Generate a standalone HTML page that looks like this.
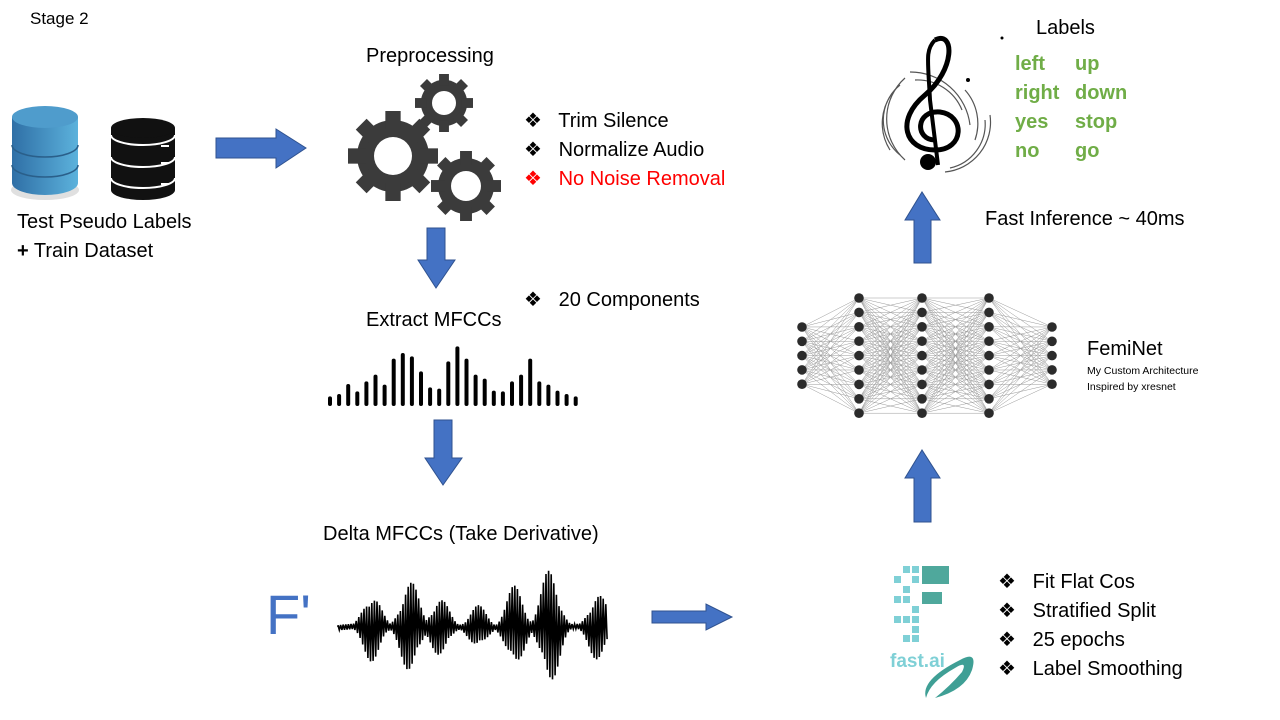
<!DOCTYPE html>
<html><head><meta charset="utf-8"><style>
body{margin:0;width:1280px;height:720px;background:#fff;position:relative;overflow:hidden;font-family:"Liberation Sans",sans-serif;}
.t{position:absolute;white-space:nowrap;font-size:20px;color:#000;}
.g{color:#70ad47;font-weight:bold;font-size:20px;}
svg{position:absolute;left:0;top:0;}
</style></head><body>
<svg id="s" width="1280" height="720" viewBox="0 0 1280 720">
<defs>
<linearGradient id="bl" x1="0" x2="1"><stop offset="0" stop-color="#2f6fa6"/><stop offset="1" stop-color="#5cb2dc"/></linearGradient>
</defs>
<ellipse cx="45" cy="190" rx="34" ry="10" fill="#ccc" opacity=".6"/>
<path d="M12 117 V183 A33 12 0 0 0 78 183 V117 Z" fill="url(#bl)"/>
<ellipse cx="45" cy="117" rx="33" ry="11" fill="#4f9ccc"/>
<path d="M12 145 A33 12 0 0 0 78 145 M12 165 A33 12 0 0 0 78 165" stroke="#2a5f8a" stroke-width="1.5" fill="none"/>
<path d="M111 128 V190 A32 10 0 0 0 175 190 V128 Z" fill="#111"/>
<ellipse cx="143" cy="128" rx="32" ry="10" fill="#111"/>
<path d="M111 135 A32 10 0 0 0 175 135 M111 157 A32 10 0 0 0 175 157 M111 178 A32 10 0 0 0 175 178" stroke="#fff" stroke-width="2" fill="none"/>
<g stroke="#fff" stroke-width="2"><path d="M161 146h8M161 163h8M161 184h8"/></g>
<polygon points="216,138 276,138 276,129 306,148 276,168 276,158 216,158" fill="#4472c4" stroke="#2f528f"/>
<polygon points="427,228 445,228 445,260 455,260 436,288 418,260 427,260" fill="#4472c4" stroke="#2f528f"/>
<polygon points="434,420 452,420 452,458 462,458 443,485 425,458 434,458" fill="#4472c4" stroke="#2f528f"/>
<polygon points="652,611 706,611 706,604 732,617 706,630 706,623 652,623" fill="#4472c4" stroke="#2f528f"/>
<polygon points="914,522 931,522 931,478 940,478 922,450 905,478 914,478" fill="#4472c4" stroke="#2f528f"/>
<polygon points="914,263 931,263 931,220 940,220 922,192 905,220 914,220" fill="#4472c4" stroke="#2f528f"/>
<g id="gears" fill="#3b3b3b"></g>
<g id="nn"></g>
<g id="bars"></g>
<path id="wave" fill="none" stroke="#000" stroke-width="1.6"/>
<g fill="#7fd0d6">
<rect x="903" y="566" width="7" height="7"/><rect x="912" y="566" width="7" height="7"/>
<rect x="894" y="576" width="7" height="7"/><rect x="912" y="576" width="7" height="7"/>
<rect x="903" y="586" width="7" height="7"/>
<rect x="894" y="596" width="7" height="7"/><rect x="903" y="596" width="7" height="7"/>
<rect x="912" y="606" width="7" height="7"/>
<rect x="894" y="616" width="7" height="7"/><rect x="903" y="616" width="7" height="7"/><rect x="912" y="616" width="7" height="7"/>
<rect x="912" y="626" width="7" height="7"/>
<rect x="903" y="635" width="7" height="7"/><rect x="912" y="635" width="7" height="7"/>
</g>
<rect x="922" y="566" width="27" height="18" fill="#4fa89c"/>
<rect x="922" y="592" width="20" height="12" fill="#4fa89c"/>
<text x="890" y="667" font-family="Liberation Sans" font-weight="bold" font-size="19" fill="#7fd0d6">fast.ai</text>
<path d="M926 698 Q920 680 960 660 Q978 650 972 670 Q965 690 935 698 Q950 686 962 672 Q968 660 955 668 Q930 682 926 698Z" fill="#3f9f95"/>
<g fill="none" stroke="#555" stroke-width="1.2">
<path d="M905 78 A55 55 0 0 0 905 160 M910 72 A60 60 0 0 1 970 125 M965 90 A50 50 0 0 1 975 140"/>
<path d="M895 90 A50 50 0 0 0 890 150 M915 80 A48 48 0 0 1 962 110 M900 85 A45 45 0 0 0 900 155 M950 168 A45 45 0 0 0 985 120 M945 172 A50 50 0 0 0 990 115"/>
</g>
<path d="M935 40 C955 30 955 70 925 95 C895 120 905 150 935 150 C965 150 965 115 940 112 C915 110 915 140 935 140" fill="none" stroke="#000" stroke-width="5"/>
<path d="M935 40 C925 50 928 60 930 100 L938 165" fill="none" stroke="#000" stroke-width="4"/>
<circle cx="928" cy="162" r="8" fill="#000"/>
<circle cx="968" cy="80" r="2" fill="#000"/><circle cx="1002" cy="38" r="1.5" fill="#000"/>
</svg>
<div class="t" style="left:30px;top:9px;font-size:17px">Stage 2</div>
<div class="t" style="left:17px;top:211px">Test Pseudo Labels</div>
<div class="t" style="left:17px;top:240px"><b>+</b> Train Dataset</div>
<div class="t" style="left:366px;top:45px">Preprocessing</div>
<div class="t" style="left:524px;top:108px">❖&nbsp;&nbsp; Trim Silence</div>
<div class="t" style="left:524px;top:137px">❖&nbsp;&nbsp; Normalize Audio</div>
<div class="t" style="left:524px;top:166px;color:#f00">❖&nbsp;&nbsp; No Noise Removal</div>
<div class="t" style="left:524px;top:287px">❖&nbsp;&nbsp; 20 Components</div>
<div class="t" style="left:366px;top:309px">Extract MFCCs</div>
<div class="t" style="left:323px;top:523px">Delta MFCCs (Take Derivative)</div>
<div class="t" style="left:266px;top:582px;font-size:56px;color:#4472c4">F'</div>
<div class="t" style="left:998px;top:569px">❖&nbsp;&nbsp; Fit Flat Cos</div>
<div class="t" style="left:998px;top:598px">❖&nbsp;&nbsp; Stratified Split</div>
<div class="t" style="left:998px;top:627px">❖&nbsp;&nbsp; 25 epochs</div>
<div class="t" style="left:998px;top:656px">❖&nbsp;&nbsp; Label Smoothing</div>
<div class="t" style="left:1087px;top:338px">FemiNet</div>
<div class="t" style="left:1087px;top:365px;font-size:10.5px">My Custom Architecture</div>
<div class="t" style="left:1087px;top:381px;font-size:10.5px">Inspired by xresnet</div>
<div class="t" style="left:985px;top:208px">Fast Inference ~ 40ms</div>
<div class="t" style="left:1036px;top:17px">Labels</div>
<div class="t g" style="left:1015px;top:53px">left</div><div class="t g" style="left:1075px;top:53px">up</div>
<div class="t g" style="left:1015px;top:82px">right</div><div class="t g" style="left:1075px;top:82px">down</div>
<div class="t g" style="left:1015px;top:111px">yes</div><div class="t g" style="left:1075px;top:111px">stop</div>
<div class="t g" style="left:1015px;top:140px">no</div><div class="t g" style="left:1075px;top:140px">go</div>
<script>
var NS="http://www.w3.org/2000/svg";
function el(p,n,a){var e=document.createElementNS(NS,n);for(var k in a)e.setAttribute(k,a[k]);p.appendChild(e);return e;}
var G=document.getElementById('gears');
function gear(cx,cy,r,hole,n){
 el(G,'circle',{cx:cx,cy:cy,r:r*0.8});
 for(var i=0;i<n;i++){var a=360*i/n;el(G,'rect',{x:cx-r*0.17,y:cy-r,width:r*0.34,height:r*0.4,transform:'rotate('+a+' '+cx+' '+cy+')'});}
 el(G,'circle',{cx:cx,cy:cy,r:hole,fill:'#fff'});
}
gear(393,156,45,19,8);gear(444,103,29,12,8);gear(466,186,35,15,8);
var N=document.getElementById('nn');
var cols=[[802,327,5,14.3],[859,298,9,14.4],[922,298,9,14.4],[989,298,9,14.4],[1052,327,5,14.3]];
var pts=cols.map(function(c){var a=[];for(var i=0;i<c[2];i++)a.push([c[0],c[1]+i*c[3]]);return a;});
for(var l=0;l<4;l++)pts[l].forEach(function(p){pts[l+1].forEach(function(q){el(N,'line',{x1:p[0],y1:p[1],x2:q[0],y2:q[1],stroke:'#999','stroke-width':0.5});});});
pts.forEach(function(a){a.forEach(function(p){el(N,'circle',{cx:p[0],cy:p[1],r:4.8,fill:'#2b2b2b'});});});
var B=document.getElementById('bars');
var tops=[175,168,138,160,130,110,140,62,45,55,100,148,152,70,25,62,110,122,158,160,130,110,62,130,140,158,168,175];
tops.forEach(function(t,i){var x=330+i*9.1,y=340+t/3;el(B,'line',{x1:x,y1:y,x2:x,y2:404,stroke:'#000','stroke-width':4,'stroke-linecap':'round'});});
var d='M338 627';var pk=[[372,35],[410,48],[440,30],[478,22],[515,42],[550,60],[598,35]];
for(var x=338,k=0;x<=608;x+=1.3,k++){var a=3;pk.forEach(function(p){var v=p[1]*Math.exp(-Math.pow((x-p[0])/12,2));if(v>a)a=v;});a*=0.6+0.4*Math.abs(Math.sin(k*1.7));d+=' L'+x.toFixed(1)+' '+(627+(k%2?a:-a)).toFixed(1);}
document.getElementById('wave').setAttribute('d',d);
</script>
</body></html>
